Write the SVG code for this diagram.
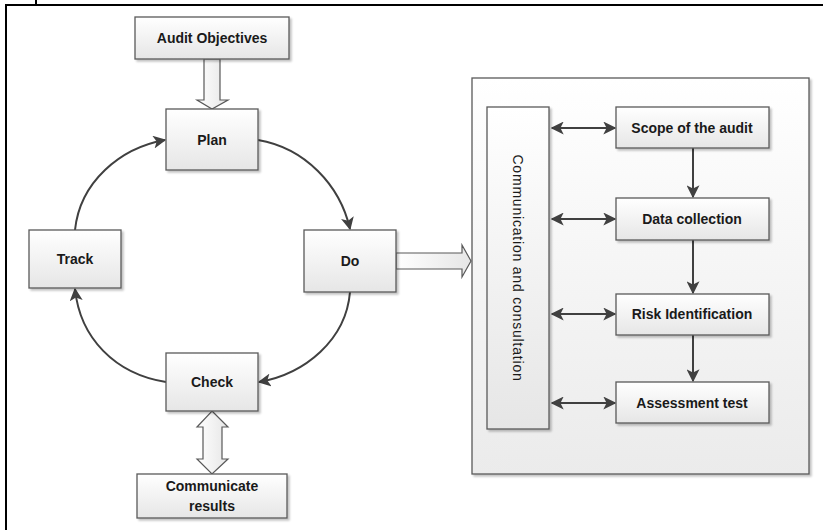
<svg xmlns="http://www.w3.org/2000/svg" width="823" height="530" viewBox="0 0 823 530">
<defs>
<linearGradient id="g" x1="0" y1="0" x2="0" y2="1"><stop offset="0" stop-color="#ffffff"/><stop offset="1" stop-color="#e6e6e6"/></linearGradient>
<linearGradient id="gb" x1="0" y1="0" x2="0" y2="1"><stop offset="0" stop-color="#ffffff"/><stop offset="1" stop-color="#ebebeb"/></linearGradient>
<linearGradient id="gh" x1="0" y1="0" x2="1" y2="0"><stop offset="0" stop-color="#ffffff"/><stop offset="1" stop-color="#e6e6e6"/></linearGradient>
<marker id="ah" viewBox="0 0 10 10" refX="9" refY="5" markerWidth="6.5" markerHeight="6.5" orient="auto-start-reverse" markerUnits="strokeWidth"><path d="M0,0 L10,5 L0,10 L2.5,5 Z" fill="#404040"/></marker>
<filter id="sh" x="-10%" y="-10%" width="130%" height="130%"><feOffset dx="2" dy="2" in="SourceAlpha"/><feGaussianBlur stdDeviation="1.2"/><feComponentTransfer><feFuncA type="linear" slope="0.25"/></feComponentTransfer><feMerge><feMergeNode/><feMergeNode in="SourceGraphic"/></feMerge></filter>
</defs>
<style>
.n{fill:url(#g);stroke:#595959;stroke-width:1.3;filter:url(#sh)}
.t{font-family:"Liberation Sans",Arial,sans-serif;font-weight:bold;font-size:14px;fill:#1a1a1a;text-anchor:middle;dominant-baseline:central}
.c{fill:none;stroke:#404040;stroke-width:2;marker-end:url(#ah)}
.d{fill:none;stroke:#404040;stroke-width:2;marker-start:url(#ah);marker-end:url(#ah)}
.h{fill:url(#gh);stroke:#595959;stroke-width:1.2}
</style>
<rect width="823" height="530" fill="#ffffff"/>
<g id="frame" fill="none" stroke="#000" stroke-width="2">
<path d="M6,530 L6,5 L823,5"/>
<path d="M36,0 L36,5"/>
</g>
<g id="container"><rect x="472" y="78" width="337" height="396" fill="url(#gb)" stroke="#595959" stroke-width="1.3" filter="url(#sh)"/></g>
<g id="connectors">
<path class="h" d="M204,59 L220,59 L220,100 L228,100 L212,109 L197,100 L204,100 Z"/>
<path class="h" d="M212,411 L228,427 L222,427 L222,459 L228,459 L212,474 L197,459 L203,459 L203,427 L197,427 Z"/>
<path class="h" d="M396,253 L462,253 L462,245 L471,261 L462,277 L462,269 L396,269 Z"/>
<path class="c" d="M258,140 C305,148 340,185 350,229"/>
<path class="c" d="M350,292 C346,340 305,374 259,382"/>
<path class="c" d="M166,382 C115,374 80,338 75,289"/>
<path class="c" d="M75,230 C80,182 120,148 165,140"/>
<path class="c" d="M693,148 L693,197"/>
<path class="c" d="M693,240 L693,293"/>
<path class="c" d="M693,335 L693,381"/>
<path class="d" d="M552,128 L615,128"/>
<path class="d" d="M552,219 L615,219"/>
<path class="d" d="M552,314 L615,314"/>
<path class="d" d="M552,403 L615,403"/>
</g>
<g id="audit-objectives"><rect class="n" x="135" y="17" width="154" height="42"/><text class="t" x="212" y="38">Audit Objectives</text></g>
<g id="plan"><rect class="n" x="166" y="109" width="92" height="61"/><text class="t" x="212" y="140">Plan</text></g>
<g id="do"><rect class="n" x="304" y="230" width="92" height="62"/><text class="t" x="350" y="261">Do</text></g>
<g id="check"><rect class="n" x="166" y="353" width="92" height="58"/><text class="t" x="212" y="382">Check</text></g>
<g id="track"><rect class="n" x="29" y="230" width="92" height="58"/><text class="t" x="75" y="259">Track</text></g>
<g id="communicate-results"><rect class="n" x="137" y="474" width="150" height="44"/><text class="t" x="212" y="486">Communicate</text><text class="t" x="212" y="506">results</text></g>
<g id="communication-consultation"><rect class="n" x="487" y="107" width="62" height="322"/><text x="518" y="268" transform="rotate(90 518 268)" font-family="'Liberation Sans',Arial,sans-serif" font-size="14" letter-spacing="0.8" fill="#1a1a1a" text-anchor="middle" dominant-baseline="central">Communication and consultation</text></g>
<g id="scope"><rect class="n" x="616" y="107" width="153" height="41"/><text class="t" x="692" y="128">Scope of the audit</text></g>
<g id="data-collection"><rect class="n" x="616" y="198" width="153" height="42"/><text class="t" x="692" y="219">Data collection</text></g>
<g id="risk-identification"><rect class="n" x="616" y="294" width="153" height="41"/><text class="t" x="692" y="314">Risk Identification</text></g>
<g id="assessment-test"><rect class="n" x="616" y="382" width="153" height="41"/><text class="t" x="692" y="403">Assessment test</text></g>
</svg>
